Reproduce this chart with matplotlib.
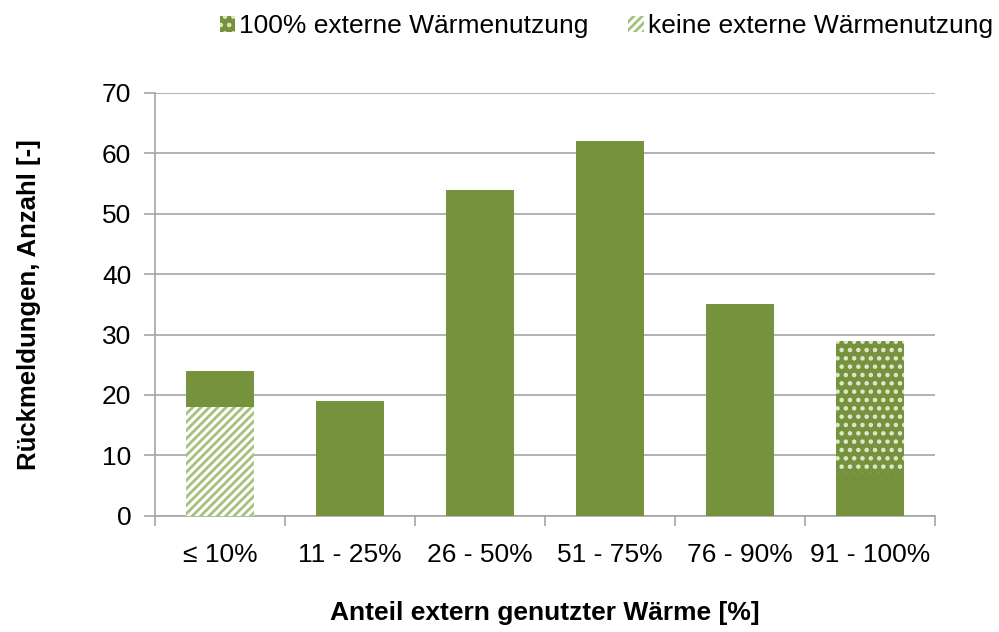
import numpy as np
import matplotlib.pyplot as plt

plt.rcParams['font.family'] = ['Liberation Sans', 'DejaVu Sans']
plt.rcParams['hatch.linewidth'] = 2.0

categories = ['≤ 10%', '11 - 25%', '26 - 50%', '51 - 75%', '76 - 90%', '91 - 100%']
keine = [18, 0, 0, 0, 0, 0]
teilweise = [6, 19, 54, 62, 35, 7]
voll = [0, 0, 0, 0, 0, 22]

green = '#76923c'
light = '#a6c27a'
grid_col = '#a6a6a6'

fig = plt.figure(figsize=(9.99, 6.32), dpi=100)
ax = fig.add_axes([0.155, 0.184, 0.781, 0.669])

x = np.arange(len(categories))
w = 0.52
keine = np.array(keine)
teilweise = np.array(teilweise)
voll = np.array(voll)

b1 = ax.bar(x, keine, w, color='white', edgecolor=light, hatch='////', linewidth=0, zorder=3,
            label='keine externe Wärmenutzung')
ax.bar(x, teilweise, w, bottom=keine, color=green, linewidth=0, zorder=3)
b3 = ax.bar(x, voll, w, bottom=keine + teilweise, color=green, edgecolor='#dfe8cf', hatch='..',
            linewidth=0, zorder=3, label='100% externe Wärmenutzung')

ax.set_ylim(0, 70)
ax.set_xlim(-0.5, len(categories) - 0.5)
ax.set_yticks(range(0, 71, 10))
ax.set_xticks(x)
ax.set_xticklabels(categories)
ax.set_xticks(np.arange(-0.5, len(categories), 1), minor=True)
ax.tick_params(axis='x', which='major', length=0, pad=20, labelsize=19)
ax.tick_params(axis='x', which='minor', length=7, color=grid_col, width=1.2)
ax.tick_params(axis='y', length=8, color=grid_col, width=1.2, labelsize=19, pad=9)
ax.yaxis.grid(True, color=grid_col, linewidth=1.2, zorder=0)
for s in ['top', 'right']:
    ax.spines[s].set_visible(False)
for s in ['left', 'bottom']:
    ax.spines[s].set_color(grid_col)
    ax.spines[s].set_linewidth(1.2)

ax.set_ylabel('Rückmeldungen, Anzahl [-]', fontsize=18.5, fontweight='bold', labelpad=44)
ax.set_xlabel('Anteil extern genutzter Wärme [%]', fontsize=19, fontweight='bold', labelpad=24)

fig.legend(handles=[b3, b1], loc='upper right', bbox_to_anchor=(1.018, 1.015), ncol=2, frameon=False,
           fontsize=19, handlelength=0.6, handleheight=0.6, handletextpad=0.15, columnspacing=1.5)

fig.savefig('out.png', dpi=100)
